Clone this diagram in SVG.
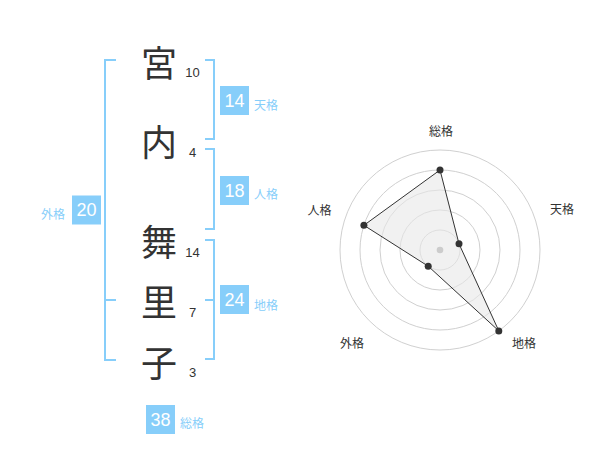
<svg xmlns="http://www.w3.org/2000/svg" width="600" height="470" viewBox="0 0 600 470">
<style>
.kanji{font-family:"Noto Sans CJK JP",sans-serif;font-size:36px;fill:#333;text-anchor:middle;dominant-baseline:central}
.stroke{font-family:"Liberation Sans",Arial,sans-serif;font-size:13px;fill:#333;text-anchor:middle}
.br{fill:none;stroke:#87CEFA;stroke-width:2}
.box{fill:#87CEFA}
.num{font-family:"Liberation Sans",Arial,sans-serif;font-size:18px;fill:#fff;text-anchor:middle;dominant-baseline:central}
.lbl{font-family:"Noto Sans CJK JP",sans-serif;font-size:12px;fill:#87CEFA;dominant-baseline:central}
.ring{fill:none;stroke:#d0d0d0;stroke-width:1}
.rl{font-family:"Noto Sans CJK JP",sans-serif;font-size:12px;fill:#333;text-anchor:middle;dominant-baseline:central}
.pt{fill:#333}
</style>
<rect width="600" height="470" fill="#fff"/>
<g id="connectors">
<path class="br" d="M116,60 H105 V360 H116 M105,300 H116"/>
<path class="br" d="M205,60 H214 V139 H205"/>
<path class="br" d="M205,149 H214 V229 H205"/>
<path class="br" d="M205,240 H214 V359 H205 M205,300 H214"/>
</g>
<g id="char-1"><text class="kanji" x="159" y="61">宮</text><text class="stroke" x="192.5" y="77">10</text></g>
<g id="char-2"><text class="kanji" x="159" y="140">内</text><text class="stroke" x="192.5" y="157">4</text></g>
<g id="char-3"><text class="kanji" x="159" y="240">舞</text><text class="stroke" x="192.5" y="257">14</text></g>
<g id="char-4"><text class="kanji" x="159" y="300">里</text><text class="stroke" x="192.5" y="317">7</text></g>
<g id="char-5"><text class="kanji" x="159" y="361">子</text><text class="stroke" x="192.5" y="377">3</text></g>
<g id="tenkaku"><rect class="box" x="220" y="86" width="29" height="29"/><text class="num" x="234.5" y="100.5">14</text><text class="lbl" x="254" y="104">天格</text></g>
<g id="jinkaku"><rect class="box" x="220" y="176" width="29" height="29"/><text class="num" x="234.5" y="190.5">18</text><text class="lbl" x="254" y="193">人格</text></g>
<g id="chikaku"><rect class="box" x="220" y="285" width="29" height="29"/><text class="num" x="234.5" y="299.5">24</text><text class="lbl" x="254" y="304">地格</text></g>
<g id="gaikaku"><rect class="box" x="72" y="195.5" width="29" height="29"/><text class="num" x="86.5" y="210">20</text><text class="lbl" x="41" y="213">外格</text></g>
<g id="soukaku"><rect class="box" x="146" y="405" width="29" height="29"/><text class="num" x="160.5" y="419.5">38</text><text class="lbl" x="180" y="422">総格</text></g>
<g id="radar">
<circle class="ring" cx="440" cy="250" r="20"/>
<circle class="ring" cx="440" cy="250" r="40"/>
<circle class="ring" cx="440" cy="250" r="60"/>
<circle class="ring" cx="440" cy="250" r="80"/>
<circle class="ring" cx="440" cy="250" r="100"/>
<polygon points="440,170 459,243.8 498.8,330.9 428.2,266.2 363.9,225.3" fill="#e8e8e8" fill-opacity="0.6" stroke="#333" stroke-width="1"/>
<circle cx="440" cy="250" r="3.3" fill="#ccc"/>
<circle class="pt" cx="440" cy="170" r="3.5"/>
<circle class="pt" cx="459" cy="243.8" r="3.5"/>
<circle class="pt" cx="498.8" cy="330.9" r="3.5"/>
<circle class="pt" cx="428.2" cy="266.2" r="3.5"/>
<circle class="pt" cx="363.9" cy="225.3" r="3.5"/>
<text class="rl" x="441" y="130.5">総格</text>
<text class="rl" x="562" y="208.7">天格</text>
<text class="rl" x="524" y="342">地格</text>
<text class="rl" x="352" y="342">外格</text>
<text class="rl" x="319.5" y="209">人格</text>
</g>
</svg>
